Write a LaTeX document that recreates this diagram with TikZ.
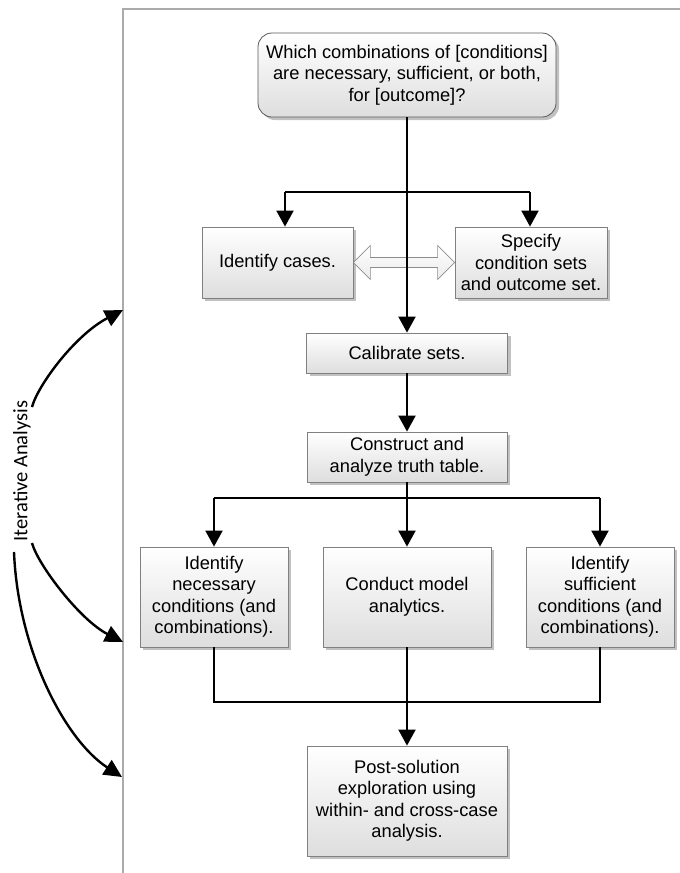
\documentclass[tikz,border=0pt]{standalone}
\usepackage{fontspec}
\setmainfont{Liberation Sans}
\newfontfamily\calibfont{Carlito}
\usetikzlibrary{arrows.meta,shadows,calc}
\begin{document}
\begin{tikzpicture}[x=1pt,y=-1pt,
  boxst/.style={draw=black!50, line width=0.8pt, top color=white, bottom color=black!13,
    drop shadow={shadow xshift=3pt,shadow yshift=-3pt,fill=black!30,opacity=0.8},
    align=center, inner sep=2pt, font=\fontsize{18.3}{21.5}\selectfont},
  conn/.style={line width=2pt, draw=black},
  arr/.style={conn, -{Triangle[length=16pt,width=17pt]}},
  iter/.style={line width=2.4pt, draw=black, -{Triangle[length=18pt,width=17pt]}},
  framest/.style={draw=black!33, line width=1.5pt}]
\useasboundingbox (0,0) rectangle (680,873);
\draw[framest] (123,873) -- (123,9) -- (680,9);

\node[boxst, draw=black!65, rounded corners=14pt, minimum width=298pt, minimum height=84pt] (q) at (407,75)
  {Which combinations of [conditions]\\are necessary, sufficient, or both,\\for [outcome]?};
\node[boxst, minimum width=151pt, minimum height=71pt] (ic) at (277.5,262.5) {Identify cases.};
\node[boxst, minimum width=152pt, minimum height=71pt] (sp) at (531,262.5) {Specify\\condition sets\\and outcome set.};
\node[boxst, minimum width=201pt, minimum height=40pt] (cal) at (407,353) {Calibrate sets.};
\node[boxst, minimum width=200pt, minimum height=50pt] (con) at (407,457) {Construct and\\analyze truth table.};
\node[boxst, minimum width=148pt, minimum height=100pt] (nec) at (214,597) {Identify\\necessary\\conditions (and\\combinations).};
\node[boxst, minimum width=168pt, minimum height=100pt] (mod) at (407,597) {Conduct model\\analytics.};
\node[boxst, minimum width=148pt, minimum height=100pt] (suf) at (600,597) {Identify\\sufficient\\conditions (and\\combinations).};
\node[boxst, minimum width=200pt, minimum height=110pt] (post) at (407,801) {Post-solution\\exploration using\\within- and cross-case\\analysis.};

% hollow double arrow
\draw[draw=black!45, line width=0.6pt, top color=white, bottom color=black!8]
  (ic.east) -- ++(17,-17) -- ++(0,12) -- ($(sp.west)+(-17,-5)$) -- ++(0,-12) -- (sp.west)
  -- ++(-17,17) -- ++(0,-12) -- ($(ic.east)+(17,5)$) -- ++(0,12) -- cycle;

% connectors
\coordinate (bl) at (285,192);
\coordinate (br) at (530,192);
\draw[conn] (bl) -- (br);
\draw[arr] (bl) -- (bl |- ic.north);
\draw[arr] (br) -- (br |- sp.north);
\draw[arr] (q.south) -- (cal.north);
\draw[arr] (cal.south) -- (con.north);

\coordinate (c1) at (214,498);
\coordinate (c3) at (600,498);
\draw[conn] (c1) -- (c3);
\draw[conn] (con.south) -- (con.south |- c1);
\draw[arr] (c1) -- (nec.north);
\draw[arr] (con.south |- c1) -- (mod.north);
\draw[arr] (c3) -- (suf.north);

\coordinate (j1) at (214,702);
\coordinate (j3) at (600,702);
\draw[conn] (nec.south) -- (j1) -- (j3) -- (suf.south);
\draw[arr] (mod.south) -- (post.north);

% iterative analysis
\node[rotate=90, font=\calibfont\fontsize{20.5}{24}\selectfont, inner sep=1pt] (it) at (22,471) {Iterative Analysis};
\coordinate (s1) at (32,407);
\coordinate (s2) at (32,543);
\coordinate (s3) at (14,552);
\coordinate (t1) at (123,310);
\coordinate (t2) at (123,642);
\coordinate (t3) at (122,777);
\draw[iter] (s1) .. controls (38,385) and (75,335) .. (t1);
\draw[iter] (s2) .. controls (38,565) and (80,620) .. (t2);
\draw[iter] (s3) .. controls (18,650) and (65,740) .. (t3);
\end{tikzpicture}
\end{document}
